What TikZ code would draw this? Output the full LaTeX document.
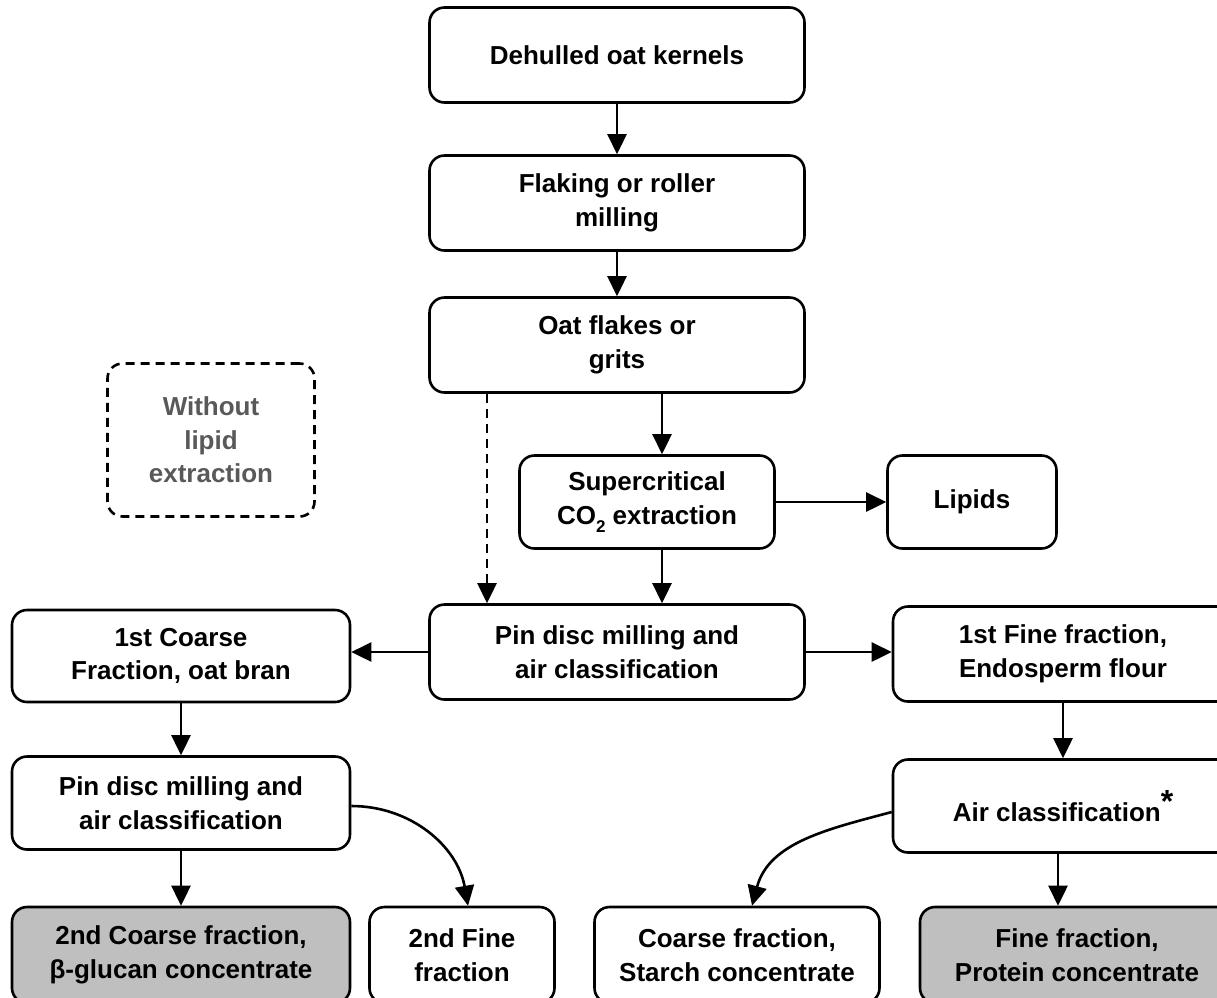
\documentclass[tikz,border=0pt]{standalone}
\usepackage{fontspec}
\setmainfont{Liberation Sans}
\usetikzlibrary{arrows.meta}
\begin{document}
\begin{tikzpicture}[x=1pt,y=-1pt,
  box/.style={draw, rounded corners=15pt, line width=2.6pt, align=center, inner sep=0pt,
    font=\bfseries\fontsize{26}{33.5}\selectfont},
  graybox/.style={box, fill=black!25},
  dbox/.style={box, dashed, dash pattern=on 9pt off 6pt, text=black!65},
  arr/.style={line width=2.6pt, -{Triangle[length=20pt,width=19pt]}},
  darr/.style={arr, dash pattern=on 9pt off 6pt}]
\useasboundingbox (0,0) rectangle (1217,997);
\clip (0,0) rectangle (1217,997);
\node[box, minimum width=375pt, minimum height=95pt] (dk) at (617,55) {Dehulled oat kernels};
\node[box, minimum width=375pt, minimum height=95pt] (fl) at (617,203) {Flaking or roller\\milling};
\node[box, minimum width=375pt, minimum height=95pt] (of) at (617,345) {Oat flakes or\\grits};
\node[dbox, minimum width=207pt, minimum height=153pt] (wl) at (211,440) {Without\\lipid\\extraction};
\node[box, minimum width=255pt, minimum height=93pt] (sc) at (647,502) {Supercritical\\CO\raisebox{-0.3em}{\fontsize{17}{17}\selectfont 2} extraction};
\node[box, minimum width=169pt, minimum height=93pt] (lp) at (972,502) {Lipids};
\node[box, minimum width=375pt, minimum height=95pt] (pm) at (617,652) {Pin disc milling and\\air classification};
\node[box, minimum width=338pt, minimum height=92pt] (c1) at (181,656) {1st Coarse\\Fraction, oat bran};
\node[box, minimum width=340pt, minimum height=95pt] (f1) at (1063,654) {1st Fine fraction,\\Endosperm flour};
\node[box, minimum width=338pt, minimum height=93pt] (pm2) at (181,803) {Pin disc milling and\\air classification};
\node[box, minimum width=340pt, minimum height=93pt] (ac) at (1063,806) {Air classification\raisebox{0.35em}{\fontsize{32}{32}\selectfont *}};
\node[graybox, minimum width=338pt, minimum height=96pt] (c2) at (181,955) {2nd Coarse fraction,\\β-glucan concentrate};
\node[box, minimum width=185pt, minimum height=96pt] (f2) at (462,955) {2nd Fine\\fraction};
\node[box, minimum width=285pt, minimum height=96pt] (sf) at (737,955) {Coarse fraction,\\Starch concentrate};
\node[graybox, minimum width=314pt, minimum height=96pt] (pf) at (1077,955) {Fine fraction,\\Protein concentrate};
\coordinate (xa) at (662,0);
\coordinate (xd) at (487,0);
\coordinate (xb) at (1058,0);
\coordinate (xs) at (752,0);
\coordinate (xf) at (468,0);
\draw[arr] (dk) -- (fl);
\draw[arr] (fl) -- (of);
\draw[arr] (of.south -| xa) -- (sc.north -| xa);
\draw[darr] (of.south -| xd) -- (pm.north -| xd);
\draw[arr] (sc.east) -- (lp.west);
\draw[arr] (sc.south -| xa) -- (pm.north -| xa);
\draw[arr] (pm.west) -- (pm.west -| c1.east);
\draw[arr] (pm.east) -- (pm.east -| f1.west);
\draw[arr] (c1) -- (pm2);
\draw[arr] (f1) -- (ac);
\draw[arr] (pm2) -- (c2);
\draw[arr] (ac.south -| xb) -- (pf.north -| xb);
\draw[arr] ([yshift=-3pt]pm2.east) to[out=0, in=100] (f2.north -| xf);
\draw[arr] ([yshift=-6pt]ac.west) to[out=195, in=75] (sf.north -| xs);
\end{tikzpicture}
\end{document}
